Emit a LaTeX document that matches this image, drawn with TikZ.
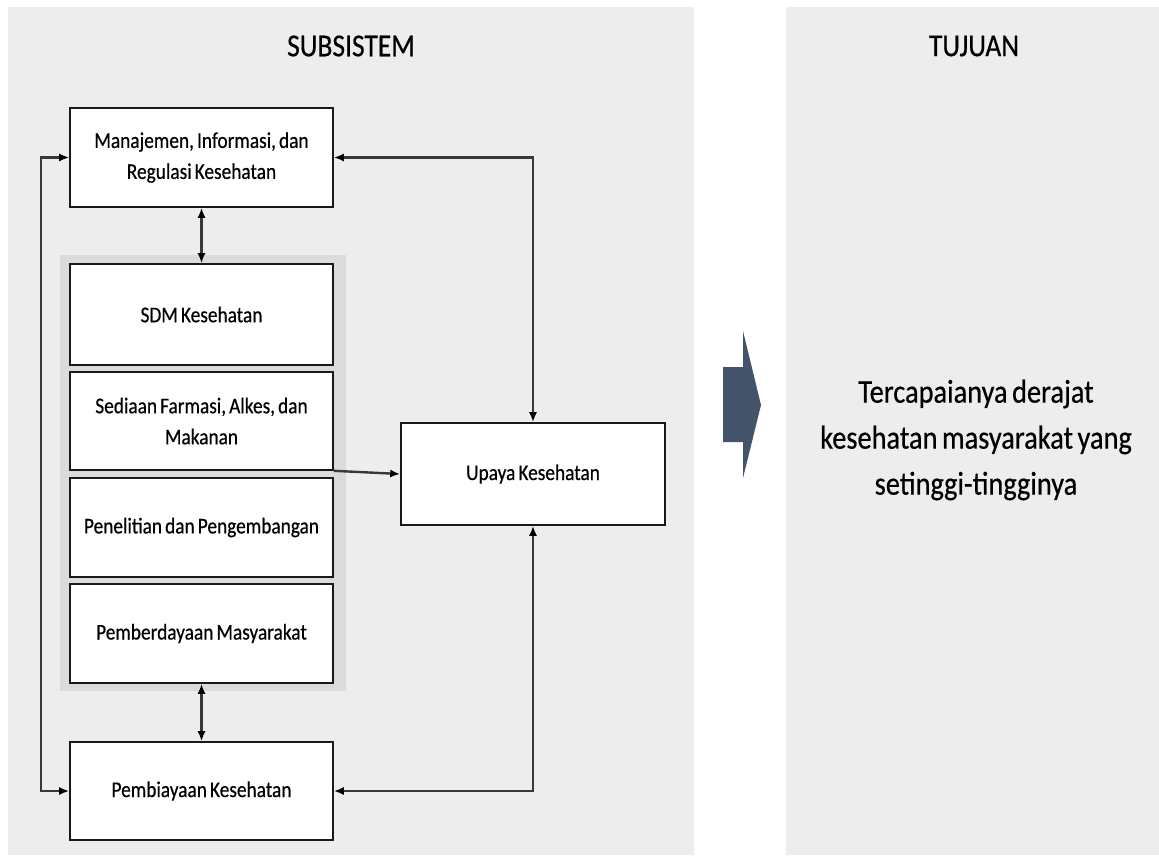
\documentclass[tikz,border=0pt]{standalone}
\usepackage{fontspec}
\setmainfont{Carlito}[FakeStretch=0.86,FakeBold=0.5,WordSpace=0.7]
\usetikzlibrary{arrows.meta}
\definecolor{panelgray}{HTML}{EDEDED}
\definecolor{groupgray}{HTML}{DBDBDB}
\definecolor{slate}{HTML}{44546A}
\begin{document}
\begin{tikzpicture}[x=1pt,y=-1pt,
  box/.style={draw=black!90,line width=1.6pt,fill=white,minimum width=263pt,
    minimum height=99pt,inner sep=4pt,align=center,
    font=\fontsize{22.5}{31}\selectfont},
  link/.style={line width=2.4pt,draw=black!78,
    {Latex[length=10pt,width=8pt,black]}-{Latex[length=10pt,width=8pt,black]}},
  onelink/.style={line width=2.4pt,draw=black!78,-{Latex[length=10pt,width=8pt,black]}},
  heading/.style={font=\fontsize{32}{38}\selectfont}]
% canvas and the two panels
\useasboundingbox (0,0) rectangle (1159,855);
\fill[white] (0,0) rectangle (1159,855);
\fill[panelgray] (8,7) rectangle (694,855);
\fill[panelgray] (786,7) rectangle (1159,855);
% grey band behind the four middle subsystems
\fill[groupgray] (60,255) rectangle (346,691);

\node[heading] (subsistem) at (351,46) {SUBSISTEM};
\node[heading] (tujuan) at (974,46) {TUJUAN};

% subsystem boxes
\node[box] (man) at (201.5,157.5) {Manajemen, Informasi, dan\\Regulasi Kesehatan};
\node[box,minimum height=101pt] (sdm) at (201.5,314.5) {SDM Kesehatan};
\node[box,minimum height=98pt] (sed) at (201.5,421) {Sediaan Farmasi, Alkes, dan\\Makanan};
\node[box] (pen) at (201.5,527.5) {Penelitian dan Pengembangan};
\node[box] (pem) at (201.5,633.5) {Pemberdayaan Masyarakat};
\node[box,minimum height=98pt] (pbi) at (201.5,791) {Pembiayaan Kesehatan};
\node[box,minimum width=264pt,minimum height=102pt] (upa) at (533,474) {Upaya Kesehatan};

% connectors
\draw[link] (man.west) -- ++(-28,0) |- (pbi.west);
\draw[link] (man.east) -| (upa.north);
\draw[link] (pbi.east) -| (upa.south);
\draw[link] (man.south) -- (sdm.north);
\draw[link] (pem.south) -- (pbi.north);
\draw[onelink] (sed.south east) -- (upa.west);

% block arrow towards the goal
\fill[slate] (723,367) -- (743,367) -- (743,331) -- (761,405) -- (743,478)
  -- (743,442) -- (723,442) -- cycle;

% goal
\node[font=\fontsize{33}{46}\selectfont,align=center] (goal) at (976,440)
  {Tercapaianya derajat\\kesehatan masyarakat yang\\setinggi-tingginya};
\end{tikzpicture}
\end{document}
